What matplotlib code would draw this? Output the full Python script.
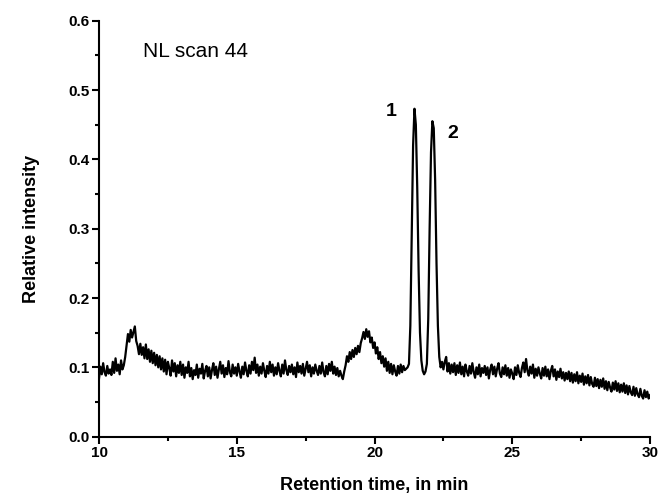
import numpy as np
import matplotlib
matplotlib.use("Agg")
import matplotlib.pyplot as plt
from matplotlib.ticker import MultipleLocator

plt.rcParams['font.family'] = ['Liberation Sans', 'DejaVu Sans']

# Retention time grid (min), one sample every 0.05 min
time = np.linspace(10.0, 30.0, 401)

# Relative intensity
intensity_early = [  # 10.00 - 21.10
    0.084, 0.101, 0.090, 0.106, 0.093, 0.088, 0.102, 0.091, 0.097, 0.089, 0.108, 0.092, 0.113, 0.095, 0.104, 0.090, 0.110, 0.097, 0.103, 0.115,
    0.132, 0.148, 0.137, 0.154, 0.143, 0.151, 0.159, 0.138, 0.131, 0.119, 0.134, 0.118, 0.129, 0.113, 0.133, 0.112, 0.126, 0.108, 0.124, 0.106,
    0.121, 0.103, 0.118, 0.100, 0.116, 0.097, 0.113, 0.094, 0.111, 0.090, 0.108, 0.099, 0.088, 0.110, 0.094, 0.106, 0.087, 0.103, 0.092, 0.108,
    0.089, 0.104, 0.085, 0.100, 0.092, 0.108, 0.087, 0.099, 0.083, 0.096, 0.089, 0.104, 0.085, 0.098, 0.091, 0.105, 0.084, 0.095, 0.102, 0.087,
    0.100, 0.084, 0.096, 0.106, 0.089, 0.101, 0.085, 0.097, 0.108, 0.091, 0.103, 0.086, 0.099, 0.090, 0.109, 0.093, 0.087, 0.104, 0.091, 0.100,
    0.088, 0.105, 0.094, 0.085, 0.101, 0.090, 0.107, 0.095, 0.087, 0.103, 0.091, 0.108, 0.096, 0.114, 0.092, 0.104, 0.088, 0.101, 0.091, 0.106,
    0.095, 0.086, 0.102, 0.091, 0.108, 0.093, 0.104, 0.088, 0.100, 0.090, 0.106, 0.095, 0.087, 0.104, 0.091, 0.110, 0.096, 0.089, 0.102, 0.093,
    0.104, 0.090, 0.100, 0.086, 0.107, 0.093, 0.102, 0.091, 0.105, 0.088, 0.098, 0.108, 0.093, 0.103, 0.087, 0.100, 0.091, 0.104, 0.095, 0.089,
    0.102, 0.091, 0.107, 0.093, 0.087, 0.102, 0.090, 0.105, 0.095, 0.108, 0.091, 0.101, 0.089, 0.099, 0.087, 0.095, 0.088, 0.083, 0.094, 0.103,
    0.116, 0.108, 0.122, 0.112, 0.125, 0.115, 0.128, 0.119, 0.131, 0.122, 0.135, 0.142, 0.151, 0.141, 0.155, 0.144, 0.152, 0.136, 0.143, 0.128,
    0.136, 0.120, 0.129, 0.112, 0.122, 0.106, 0.116, 0.101, 0.113, 0.095, 0.108, 0.092, 0.105, 0.090, 0.103, 0.094, 0.088, 0.102, 0.091, 0.104,
    0.093, 0.102, 0.096,
]
intensity_peaks = [  # 21.15 - 22.45
    0.098, 0.100, 0.105, 0.160, 0.290, 0.420, 0.473, 0.450, 0.360, 0.240,
    0.150, 0.110, 0.095, 0.090, 0.094, 0.105, 0.170, 0.300, 0.410, 0.455,
    0.445, 0.370, 0.250, 0.160, 0.115, 0.100, 0.108,
]
intensity_late = [  # 22.50 - 30.00
    0.097, 0.108, 0.115, 0.094, 0.106, 0.091, 0.104, 0.093, 0.106, 0.089,
    0.103, 0.092, 0.107, 0.090, 0.101, 0.087, 0.104, 0.094, 0.088, 0.102, 0.091, 0.106, 0.093, 0.085, 0.100, 0.090, 0.104, 0.087, 0.099, 0.092,
    0.102, 0.089, 0.100, 0.084, 0.097, 0.104, 0.090, 0.101, 0.087, 0.098, 0.106, 0.091, 0.086, 0.100, 0.090, 0.103, 0.088, 0.099, 0.085, 0.097,
    0.091, 0.083, 0.100, 0.089, 0.103, 0.092, 0.086, 0.099, 0.107, 0.093, 0.112, 0.095, 0.088, 0.101, 0.091, 0.104, 0.085, 0.098, 0.088, 0.100,
    0.091, 0.084, 0.099, 0.088, 0.101, 0.087, 0.097, 0.083, 0.095, 0.102, 0.087, 0.097, 0.082, 0.094, 0.086, 0.098, 0.084, 0.093, 0.081, 0.092,
    0.083, 0.094, 0.080, 0.092, 0.078, 0.090, 0.080, 0.093, 0.077, 0.088, 0.079, 0.091, 0.075, 0.087, 0.077, 0.089, 0.074, 0.086, 0.076, 0.072,
    0.085, 0.073, 0.083, 0.070, 0.082, 0.072, 0.084, 0.069, 0.080, 0.067, 0.079, 0.071, 0.065, 0.078, 0.068, 0.080, 0.066, 0.077, 0.064, 0.075,
    0.065, 0.077, 0.063, 0.074, 0.061, 0.073, 0.064, 0.060, 0.072, 0.059, 0.070, 0.061, 0.057, 0.069, 0.059, 0.055, 0.067, 0.057, 0.065, 0.055,
    0.060,
]

intensity = np.array(intensity_early + intensity_peaks + intensity_late)

peak_labels = ["1", "2"]
peak_label_pos = [(20.59, 0.469), (22.85, 0.438)]

fig = plt.figure(figsize=(6.61, 4.96), dpi=100)
ax = fig.add_axes([0.1498, 0.1196, 0.8336, 0.8387])
ax.plot(time, intensity, color='black', lw=1.6)

ax.set_xlim(10, 30)
ax.set_ylim(0.0, 0.6)
ax.xaxis.set_major_locator(MultipleLocator(5))
ax.xaxis.set_minor_locator(MultipleLocator(2.5))
ax.yaxis.set_major_locator(MultipleLocator(0.1))
ax.yaxis.set_minor_locator(MultipleLocator(0.05))
ax.yaxis.set_major_formatter(plt.FormatStrFormatter('%.1f'))

for s in ['top', 'right']:
    ax.spines[s].set_visible(False)
for s in ['left', 'bottom']:
    ax.spines[s].set_linewidth(1.5)

ax.tick_params(which='major', direction='out', length=5, width=1.5,
               labelsize=11, pad=2)
ax.tick_params(which='minor', direction='out', length=3, width=1.5)
for lab in ax.get_xticklabels() + ax.get_yticklabels():
    lab.set_fontweight('bold')

ax.set_xlabel('Retention time, in min', fontsize=13, fontweight='bold', labelpad=12)
ax.set_ylabel('Relative intensity', fontsize=13, fontweight='bold', labelpad=20)

ax.text(11.58, 0.556, 'NL scan 44', fontsize=15, ha='left', va='center')
for lab, (x, y) in zip(peak_labels, peak_label_pos):
    ax.text(x, y, lab, fontsize=14, fontweight='bold', ha='center', va='center')

fig.savefig('out.png', dpi=100)
